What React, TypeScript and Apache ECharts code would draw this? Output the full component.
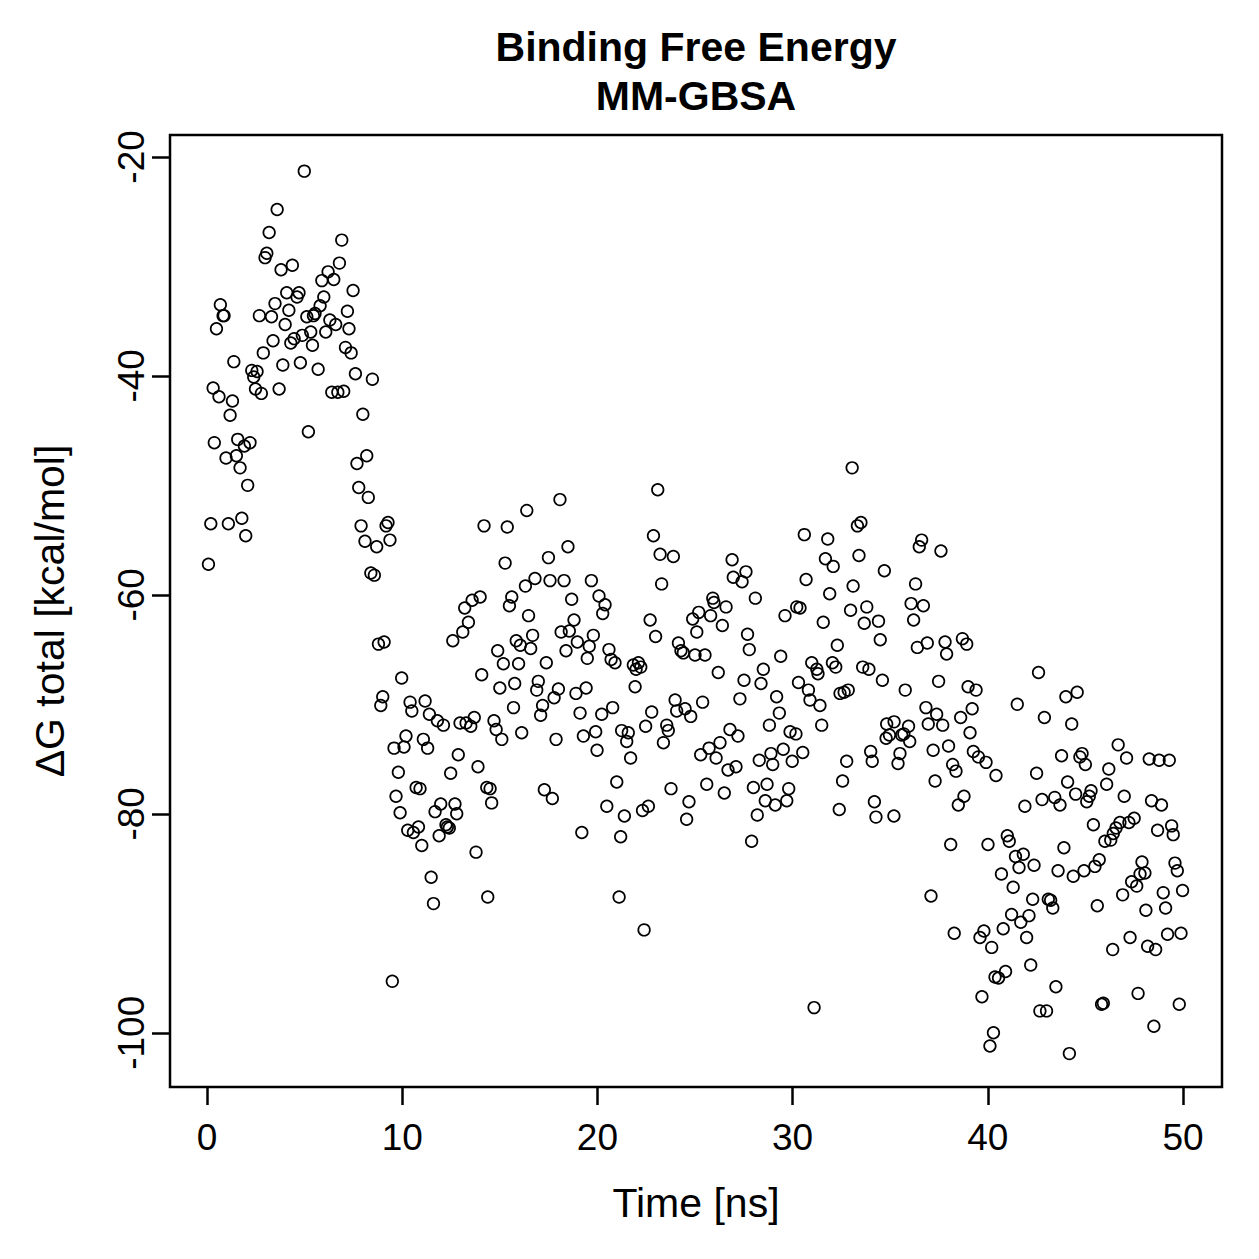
import React, { useEffect, useRef } from "react";
import * as echarts from "echarts";

// MM-GBSA binding free energy snapshots: [time (ns), ΔG total (kcal/mol)]
const xTicks = [0, 10, 20, 30, 40, 50];
const yTicks = [-100, -80, -60, -40, -20];

const ns0to10: [number, number][] = [
  [0.07, -57.2], [0.19, -53.5], [0.31, -41.1], [0.37, -46.1], [0.48, -35.7], [0.61, -41.9],
  [0.68, -33.5], [0.82, -34.5], [0.87, -34.5], [0.97, -47.5], [1.09, -53.5], [1.18, -43.6],
  [1.3, -42.3], [1.37, -38.7], [1.5, -47.3], [1.57, -45.8], [1.69, -48.4], [1.78, -53.0],
  [1.91, -46.4], [1.98, -54.6], [2.08, -50.0], [2.2, -46.1], [2.29, -39.5], [2.39, -40.1],
  [2.48, -41.2], [2.56, -39.6], [2.68, -34.5], [2.78, -41.6], [2.88, -37.9], [2.97, -29.2],
  [3.06, -28.8], [3.18, -26.9], [3.3, -34.6], [3.38, -36.8], [3.48, -33.4], [3.59, -24.8],
  [3.69, -41.2], [3.79, -30.3], [3.88, -39.0], [4.0, -35.3], [4.08, -32.4], [4.19, -34.0],
  [4.29, -37.0], [4.37, -29.9], [4.46, -36.6], [4.61, -32.8], [4.71, -32.4], [4.78, -38.8],
  [4.88, -36.3], [4.98, -21.3], [5.11, -34.6], [5.19, -45.1], [5.31, -36.0], [5.4, -37.2],
  [5.45, -34.5], [5.53, -34.3], [5.69, -39.4], [5.79, -33.6], [5.88, -31.3], [5.98, -32.8],
  [6.08, -36.0], [6.2, -30.5], [6.29, -34.9], [6.39, -41.5], [6.49, -31.2], [6.59, -35.3],
  [6.7, -41.5], [6.78, -29.7], [6.9, -27.6], [7.0, -41.4], [7.09, -37.4], [7.19, -34.1],
  [7.27, -35.7], [7.38, -37.9], [7.48, -32.2], [7.6, -39.8], [7.68, -48.0], [7.77, -50.2],
  [7.89, -53.7], [7.98, -43.5], [8.09, -55.1], [8.18, -47.3], [8.26, -51.1], [8.39, -58.0],
  [8.47, -40.3], [8.57, -58.2], [8.69, -55.6], [8.78, -64.5], [8.9, -70.1], [9.0, -69.3],
  [9.07, -64.3], [9.17, -53.7], [9.27, -53.4], [9.37, -55.0], [9.49, -95.3], [9.58, -74.0],
  [9.68, -78.4], [9.8, -76.2], [9.89, -79.9], [9.97, -67.6],
];

const ns10to20: [number, number][] = [
  [10.09, -73.9], [10.19, -72.9], [10.28, -81.5], [10.4, -69.8], [10.49, -70.6], [10.57, -81.7],
  [10.71, -77.6], [10.83, -81.2], [10.91, -77.7], [11.0, -82.9], [11.08, -73.2], [11.17, -69.7],
  [11.3, -74.0], [11.39, -70.9], [11.48, -85.8], [11.6, -88.2], [11.68, -79.8], [11.8, -71.5],
  [11.89, -82.0], [11.97, -79.1], [12.11, -71.9], [12.24, -81.0], [12.31, -81.2], [12.41, -81.3],
  [12.48, -76.3], [12.59, -64.2], [12.7, -79.1], [12.79, -80.0], [12.87, -74.6], [12.96, -71.7],
  [13.1, -63.4], [13.2, -61.2], [13.27, -71.7], [13.39, -62.5], [13.51, -72.0], [13.58, -60.5],
  [13.69, -71.2], [13.78, -83.5], [13.88, -75.7], [13.99, -60.2], [14.07, -67.3], [14.19, -53.7],
  [14.33, -77.6], [14.38, -87.6], [14.5, -77.7], [14.58, -79.0], [14.7, -71.5], [14.81, -72.3],
  [14.89, -65.1], [15.0, -68.5], [15.1, -73.2], [15.18, -66.3], [15.27, -57.1], [15.38, -53.8],
  [15.49, -61.0], [15.61, -60.2], [15.7, -70.3], [15.76, -68.1], [15.84, -64.2], [15.96, -66.3],
  [16.05, -64.6], [16.12, -72.6], [16.31, -59.2], [16.38, -52.3], [16.47, -61.9], [16.58, -64.9],
  [16.68, -63.7], [16.8, -58.5], [16.89, -68.7], [16.97, -67.9], [17.09, -71.0], [17.19, -70.1],
  [17.28, -77.8], [17.38, -66.2], [17.49, -56.6], [17.57, -58.7], [17.69, -78.6], [17.78, -69.4],
  [17.88, -73.2], [18.0, -68.6], [18.08, -51.3], [18.14, -63.4], [18.29, -58.7], [18.39, -65.1],
  [18.49, -55.6], [18.56, -63.3], [18.68, -60.4], [18.8, -62.3], [18.9, -69.0], [18.97, -64.3],
  [19.11, -70.8], [19.2, -81.7], [19.28, -72.9], [19.42, -68.5], [19.48, -65.8], [19.58, -64.7],
  [19.69, -58.7], [19.79, -63.7], [19.91, -72.5], [19.98, -74.2],
];

const ns20to30: [number, number][] = [
  [20.08, -60.1], [20.22, -70.9], [20.27, -61.7], [20.39, -60.9], [20.48, -79.3], [20.59, -65.0],
  [20.7, -65.9], [20.78, -70.3], [20.9, -66.2], [20.99, -77.1], [21.11, -87.6], [21.19, -82.1],
  [21.24, -72.4], [21.38, -80.2], [21.5, -73.4], [21.58, -72.6], [21.7, -74.9], [21.84, -66.4],
  [21.93, -68.4], [21.98, -66.8], [22.1, -66.2], [22.22, -66.6], [22.31, -79.7], [22.39, -90.6],
  [22.47, -72.0], [22.61, -79.3], [22.7, -62.3], [22.78, -70.7], [22.87, -54.6], [22.98, -63.8],
  [23.09, -50.4], [23.21, -56.3], [23.29, -59.0], [23.38, -73.5], [23.55, -71.9], [23.63, -72.4],
  [23.77, -77.7], [23.89, -56.5], [23.98, -69.6], [24.06, -70.6], [24.15, -64.4], [24.28, -65.1],
  [24.4, -65.3], [24.49, -70.4], [24.57, -80.5], [24.69, -78.9], [24.78, -71.1], [24.88, -62.2],
  [25.0, -65.5], [25.09, -63.4], [25.19, -61.6], [25.29, -74.6], [25.39, -69.8], [25.51, -65.5],
  [25.6, -77.3], [25.72, -74.0], [25.8, -61.9], [25.91, -60.3], [25.97, -60.7], [26.08, -74.9],
  [26.19, -67.1], [26.28, -73.5], [26.4, -62.8], [26.5, -78.1], [26.59, -61.1], [26.69, -76.0],
  [26.79, -72.3], [26.9, -56.8], [26.96, -58.4], [27.1, -75.7], [27.2, -72.9], [27.3, -69.5],
  [27.41, -58.8], [27.51, -67.8], [27.61, -57.9], [27.69, -63.6], [27.78, -65.0], [27.9, -82.5],
  [27.99, -77.6], [28.09, -60.3], [28.19, -80.1], [28.29, -75.1], [28.38, -68.1], [28.5, -66.8],
  [28.6, -78.8], [28.69, -77.3], [28.81, -71.9], [28.89, -74.5], [28.98, -75.5], [29.11, -79.2],
  [29.18, -69.3], [29.32, -70.8], [29.39, -65.6], [29.52, -74.1], [29.61, -61.9], [29.7, -78.8],
  [29.8, -77.7], [29.87, -72.5], [29.98, -75.2],
];

const ns30to40: [number, number][] = [
  [30.17, -72.7], [30.21, -61.1], [30.3, -68.0], [30.38, -61.2], [30.52, -74.4], [30.6, -54.5],
  [30.69, -58.6], [30.81, -68.7], [30.89, -69.6], [30.98, -66.2], [31.1, -97.7], [31.24, -66.8],
  [31.3, -67.2], [31.4, -70.1], [31.49, -71.9], [31.57, -62.5], [31.68, -56.7], [31.8, -54.9],
  [31.9, -59.9], [32.04, -66.2], [32.08, -57.4], [32.21, -66.6], [32.29, -64.6], [32.39, -79.6],
  [32.43, -69.0], [32.56, -77.0], [32.64, -68.9], [32.77, -75.2], [32.85, -68.7], [32.97, -61.4],
  [33.05, -48.4], [33.1, -59.2], [33.32, -53.7], [33.4, -56.4], [33.5, -53.4], [33.59, -66.6],
  [33.67, -62.6], [33.8, -61.1], [33.91, -66.8], [34.0, -74.3], [34.08, -75.2], [34.19, -78.9],
  [34.27, -80.3], [34.4, -62.4], [34.49, -64.1], [34.6, -67.8], [34.7, -57.8], [34.79, -73.1],
  [34.82, -71.8], [34.96, -72.8], [35.19, -80.2], [35.2, -71.6], [35.4, -75.4], [35.5, -74.5],
  [35.59, -72.8], [35.7, -72.7], [35.77, -68.7], [35.94, -72.0], [36.0, -73.4], [36.07, -60.8],
  [36.2, -62.3], [36.3, -59.0], [36.39, -64.8], [36.49, -55.6], [36.61, -55.0], [36.7, -61.0],
  [36.83, -70.3], [36.9, -64.4], [36.95, -71.8], [37.09, -87.5], [37.2, -74.2], [37.3, -77.0],
  [37.38, -70.9], [37.48, -67.9], [37.6, -56.0], [37.69, -71.9], [37.81, -64.3], [37.89, -65.4],
  [37.99, -73.8], [38.1, -82.8], [38.2, -75.5], [38.28, -90.9], [38.37, -76.1], [38.49, -79.2],
  [38.61, -71.2], [38.7, -64.0], [38.78, -78.4], [38.92, -64.5], [38.99, -68.4], [39.09, -72.6],
  [39.2, -70.4], [39.26, -74.3], [39.4, -68.7], [39.52, -74.8], [39.6, -91.3], [39.7, -96.7],
  [39.8, -90.7], [39.91, -75.3],
];

const ns40to50: [number, number][] = [
  [40.01, -82.8], [40.11, -101.2], [40.2, -92.2], [40.29, -100.0], [40.37, -94.9], [40.42, -76.5],
  [40.55, -95.0], [40.7, -85.5], [40.79, -90.5], [40.91, -94.4], [41.0, -82.0], [41.1, -82.5],
  [41.22, -89.2], [41.3, -86.7], [41.42, -83.9], [41.51, -70.0], [41.6, -84.9], [41.69, -89.9],
  [41.82, -83.7], [41.9, -79.3], [41.99, -91.3], [42.11, -89.3], [42.2, -93.8], [42.3, -87.8],
  [42.37, -84.7], [42.5, -76.3], [42.6, -67.1], [42.67, -98.0], [42.78, -78.7], [42.9, -71.2],
  [43.01, -98.0], [43.1, -87.8], [43.22, -87.9], [43.33, -88.6], [43.43, -78.5], [43.49, -95.8],
  [43.6, -85.2], [43.7, -79.2], [43.78, -74.7], [43.9, -83.1], [44.0, -69.3], [44.09, -77.1],
  [44.18, -101.9], [44.3, -71.8], [44.38, -85.7], [44.5, -78.2], [44.58, -68.9], [44.72, -74.8],
  [44.83, -74.5], [44.93, -85.2], [45.0, -75.5], [45.07, -78.9], [45.2, -78.4], [45.29, -77.9],
  [45.41, -81.0], [45.49, -84.8], [45.61, -88.4], [45.71, -84.2], [45.83, -97.4], [45.92, -97.3],
  [46.0, -82.5], [46.09, -77.3], [46.2, -75.9], [46.3, -82.4], [46.4, -92.4], [46.43, -81.8],
  [46.57, -81.3], [46.68, -73.7], [46.77, -80.8], [46.91, -87.4], [46.99, -78.4], [47.11, -74.9],
  [47.23, -80.8], [47.29, -91.3], [47.37, -86.2], [47.5, -80.4], [47.63, -86.6], [47.7, -96.4],
  [47.8, -85.5], [47.9, -84.4], [48.05, -85.4], [48.1, -88.8], [48.19, -92.1], [48.27, -75.0],
  [48.39, -78.8], [48.51, -99.4], [48.6, -92.4], [48.7, -81.5], [48.78, -75.1], [48.9, -79.2],
  [48.99, -87.2], [49.11, -88.6], [49.21, -91.0], [49.3, -75.1], [49.42, -81.1], [49.5, -81.9],
  [49.59, -84.5], [49.71, -85.2], [49.81, -97.4], [49.9, -90.9], [49.98, -87.0],
];

const FONT = '"Liberation Sans", Arial, Helvetica, sans-serif';

export default function App() {
  const ref = useRef<HTMLDivElement>(null);

  useEffect(() => {
    if (!ref.current) return;
    const chart = echarts.init(ref.current, null, { renderer: "svg" });
    const points = [...ns0to10, ...ns10to20, ...ns20to30, ...ns30to40, ...ns40to50];

    chart.setOption({
      animation: false,
      backgroundColor: "#ffffff",
      grid: {
        left: 170,
        top: 135,
        width: 1052,
        height: 952,
        show: true,
        borderColor: "#000000",
        borderWidth: 2.5,
        backgroundColor: "transparent",
      },
      xAxis: {
        type: "value",
        min: -1.9,
        max: 52,
        axisLine: { show: false, onZero: false },
        splitLine: { show: false },
        axisTick: {
          show: true,
          inside: false,
          length: 18,
          lineStyle: { color: "#000000", width: 2.5 },
          customValues: xTicks,
        },
        axisLabel: {
          customValues: xTicks,
          margin: 32,
          fontSize: 37,
          color: "#000000",
          fontFamily: FONT,
        },
      },
      yAxis: {
        type: "value",
        min: -104.95,
        max: -18.0,
        axisLine: { show: false, onZero: false },
        splitLine: { show: false },
        axisTick: {
          show: true,
          inside: false,
          length: 18,
          lineStyle: { color: "#000000", width: 2.5 },
          customValues: yTicks,
        },
        axisLabel: {
          customValues: yTicks,
          rotate: 90,
          margin: 20,
          fontSize: 37,
          color: "#000000",
          fontFamily: FONT,
        },
      },
      series: [
        {
          type: "scatter",
          data: points,
          symbol: "circle",
          symbolSize: 11.6,
          itemStyle: {
            color: "rgba(0,0,0,0)",
            borderColor: "#000000",
            borderWidth: 1.7,
            opacity: 1,
          },
          emphasis: { disabled: true },
        },
      ],
      graphic: [
        {
          type: "text",
          x: 696,
          y: 47,
          style: {
            text: "Binding Free Energy",
            fontSize: 41,
            fontWeight: "bold",
            fontFamily: FONT,
            fill: "#000000",
            align: "center",
            verticalAlign: "middle",
          },
        },
        {
          type: "text",
          x: 696,
          y: 96,
          style: {
            text: "MM-GBSA",
            fontSize: 41,
            fontWeight: "bold",
            fontFamily: FONT,
            fill: "#000000",
            align: "center",
            verticalAlign: "middle",
          },
        },
        {
          type: "text",
          x: 696,
          y: 1203,
          style: {
            text: "Time [ns]",
            fontSize: 41,
            fontFamily: FONT,
            fill: "#000000",
            align: "center",
            verticalAlign: "middle",
          },
        },
        {
          type: "text",
          x: 50,
          y: 611,
          rotation: Math.PI / 2,
          style: {
            text: "ΔG total [kcal/mol]",
            fontSize: 41,
            fontFamily: FONT,
            fill: "#000000",
            align: "center",
            verticalAlign: "middle",
          },
        },
      ],
    });

    return () => chart.dispose();
  }, []);

  return (
    <div
      ref={ref}
      style={{ position: "fixed", left: 0, top: 0, width: 1259, height: 1259 }}
    />
  );
}
